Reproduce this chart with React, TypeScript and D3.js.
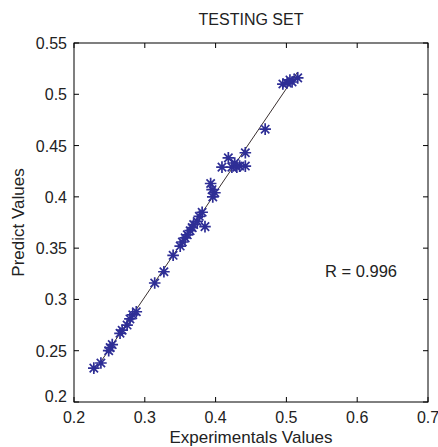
import React from "react";
import * as d3 from "d3";

const experimental = [
  0.228, 0.238, 0.251, 0.254, 0.249, 0.265, 0.268, 0.275, 0.279, 0.283,
  0.288, 0.314, 0.327, 0.34, 0.35, 0.353, 0.357, 0.36, 0.364, 0.367,
  0.369, 0.374, 0.377, 0.381, 0.385, 0.396, 0.399, 0.395, 0.393, 0.409,
  0.418, 0.423, 0.43, 0.434, 0.442, 0.427, 0.442, 0.47, 0.495, 0.501,
  0.508, 0.516, 0.505,
];
const predicted = [
  0.233, 0.238, 0.253, 0.256, 0.25, 0.267, 0.27, 0.275, 0.281, 0.285,
  0.288, 0.316, 0.327, 0.343, 0.352, 0.356, 0.36, 0.363, 0.367, 0.37,
  0.373, 0.376, 0.381, 0.385, 0.371, 0.4, 0.404, 0.407, 0.413, 0.429,
  0.438, 0.429, 0.429, 0.43, 0.43, 0.433, 0.443, 0.466, 0.51, 0.511,
  0.512, 0.516, 0.514,
];
const xTicks = [0.2, 0.3, 0.4, 0.5, 0.6, 0.7];
const yTicks = [0.2, 0.25, 0.3, 0.35, 0.4, 0.45, 0.5, 0.55];

const W = 438;
const H = 447;
const left = 74;
const right = 428;
const top = 43;
const bottom = 402;
const font = "'Liberation Sans', Arial, sans-serif";
const ink = "#222";

const App = () => {
  const x = d3.scaleLinear().domain([0.2, 0.7]).range([left, right]);
  const y = d3.scaleLinear().domain([0.2, 0.55]).range([bottom, top]);

  // least squares fit line
  const mx = d3.mean(experimental)!;
  const my = d3.mean(predicted)!;
  const sxy = d3.sum(experimental, (v, i) => (v - mx) * (predicted[i] - my));
  const sxx = d3.sum(experimental, (v) => (v - mx) * (v - mx));
  const b = sxy / sxx;
  const a = my - b * mx;
  const [x0, x1] = d3.extent(experimental) as [number, number];
  const fit = d3.line<number>().x((v) => x(v)).y((v) => y(a + b * v))([x0, x1])!;

  const r = 5.8;
  const d = r * 0.72;
  const star = `M${-r},0H${r}M0,${-r}V${r}M${-d},${-d}L${d},${d}M${-d},${d}L${d},${-d}`;

  return (
    <svg width={W} height={H} style={{ position: "absolute", left: 0, top: 0, background: "#fff" }}>
      <text x={(left + right) / 2} y={25} textAnchor="middle" fontFamily={font} fontSize={16} fill={ink}>
        TESTING SET
      </text>

      <path d={fit} stroke="#3a3030" strokeWidth={1} fill="none" />

      {experimental.map((v, i) => (
        <path
          key={i}
          d={star}
          transform={`translate(${x(v)},${y(predicted[i])})`}
          stroke="#2e2e96"
          strokeWidth={1.7}
          fill="none"
        />
      ))}

      <rect x={left} y={top} width={right - left} height={bottom - top} fill="none" stroke="#000" strokeWidth={1} />

      {xTicks.map((t) => (
        <g key={t}>
          <line x1={x(t)} x2={x(t)} y1={bottom} y2={bottom - 5} stroke="#000" />
          <line x1={x(t)} x2={x(t)} y1={top} y2={top + 5} stroke="#000" />
          <text x={x(t)} y={423} textAnchor="middle" fontFamily={font} fontSize={16} fill={ink}>
            {d3.format("")(t)}
          </text>
        </g>
      ))}

      {yTicks.map((t) => (
        <g key={t}>
          <line x1={left} x2={left + 5} y1={y(t)} y2={y(t)} stroke="#000" />
          <line x1={right} x2={right - 5} y1={y(t)} y2={y(t)} stroke="#000" />
          <text
            x={67}
            y={y(t) + (t === 0.2 ? 0 : 6)}
            textAnchor="end"
            fontFamily={font}
            fontSize={16}
            fill={ink}
          >
            {d3.format("")(t)}
          </text>
        </g>
      ))}

      <text x={(left + right) / 2} y={443} textAnchor="middle" fontFamily={font} fontSize={17} fill={ink}>
        Experimentals Values
      </text>
      <text
        transform={`translate(24,${(top + bottom) / 2}) rotate(-90)`}
        textAnchor="middle"
        fontFamily={font}
        fontSize={17}
        fill={ink}
      >
        Predict Values
      </text>
      <text x={325} y={277} fontFamily={font} fontSize={16.5} fill={ink}>
        R = 0.996
      </text>
    </svg>
  );
};

export default App;
